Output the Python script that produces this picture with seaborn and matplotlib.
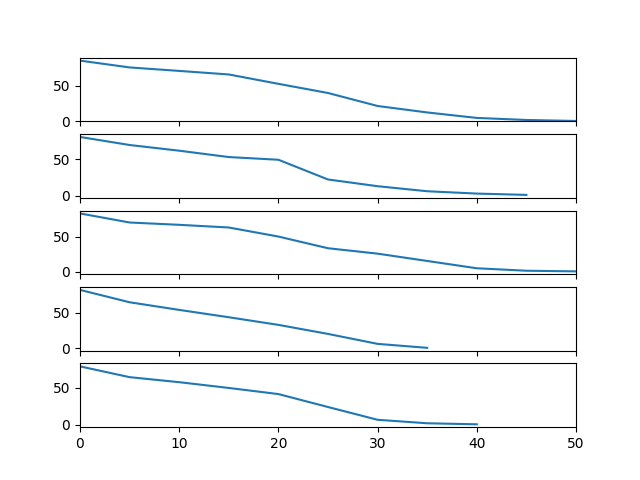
import numpy as np
import pandas as pd
import matplotlib
matplotlib.use("Agg")
import matplotlib.pyplot as plt
import seaborn as sns

# === Data === #
x_full = [0, 5, 10, 15, 20, 25, 30, 35, 40, 45, 50]

series_1 = [85.5, 75.9, 71.0, 66.0, 52.8, 39.9, 21.6, 12.5, 4.8, 1.9, 0.5]
series_2 = [80.2, 69.2, 61.4, 52.7, 49.0, 22.0, 12.8, 5.9, 2.7, 0.9]
series_3 = [82.9, 70.0, 66.7, 62.9, 50.0, 33.4, 25.7, 15.3, 4.9, 1.4, 0.5]
series_4 = [82.5, 65.0, 54.2, 43.8, 33.0, 20.2, 6.1, 0.5]
series_5 = [79.2, 64.6, 57.8, 50.0, 41.7, 24.2, 6.9, 2.2, 0.8]

all_series = [series_1, series_2, series_3, series_4, series_5]

# === Plot === #
fig, axes = plt.subplots(5, 1, sharex=True, figsize=(6.4, 4.8), dpi=100)

for ax, values in zip(axes, all_series):
    df = pd.DataFrame({"x": x_full[:len(values)], "y": values})
    sns.lineplot(data=df, x="x", y="y", ax=ax, color="#1f77b4")
    ax.set_xlabel("")
    ax.set_ylabel("")

axes[0].set_ylim(bottom=0)
axes[-1].set_xlim(0, 50)
axes[-1].set_xticks([0, 10, 20, 30, 40, 50])

plt.savefig("out.png", dpi=100)
plt.close()
